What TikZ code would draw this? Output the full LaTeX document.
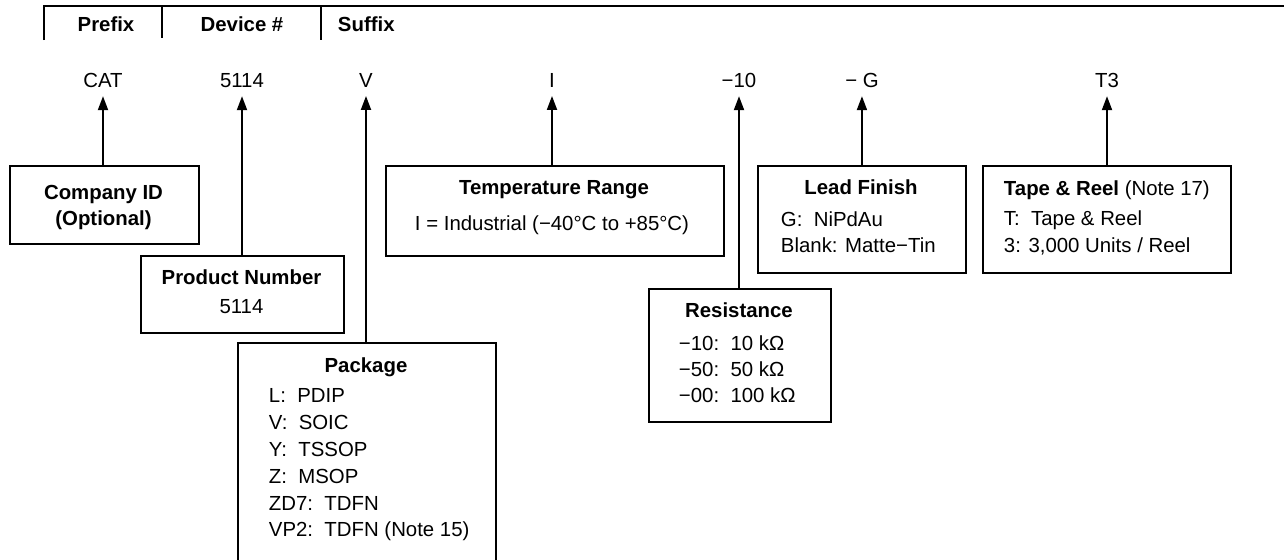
\documentclass[tikz,border=0pt]{standalone}
\usepackage{fontspec}
\setmainfont{Liberation Sans}
\usetikzlibrary{arrows.meta,positioning}

\begin{document}
\begin{tikzpicture}[x=0.02cm, y=-0.02cm, line width=1.1pt,
    every node/.style={font=\fontsize{11.6}{14}\selectfont}]
    % Styles
    \tikzstyle{headtext} = [font=\fontsize{11.6}{14}\selectfont\bfseries,
        inner sep=0pt, anchor=base]
    \tikzstyle{codetext} = [inner xsep=0pt, inner ysep=0.16cm, anchor=base]
    \tikzstyle{infobox} = [rectangle, draw, anchor=north west, inner sep=0pt]
    \tikzstyle{boxtitle} = [font=\fontsize{11.6}{14}\selectfont\bfseries,
        inner sep=0pt, anchor=base]
    \tikzstyle{boxitem} = [inner sep=0pt, anchor=base west]
    \tikzstyle{arrow} = [-{Triangle[length=0.28cm, width=0.2cm]}]

    \useasboundingbox (0,0) rectangle (1284,559);
    \clip (0,0) rectangle (1284,559);

    % === HEADER BAR ===
    \draw (44,40) -- (44,6) -- (1284,6);
    \draw (162,6) -- (162,38);
    \draw (321,6) -- (321,40);
    \node [headtext] (prefix) at (106,31) {Prefix};
    \node [headtext] (device) at (242,31) {Device \#};
    \node [headtext, anchor=base west] (suffix) at (337,31) {Suffix};

    % === PART NUMBER ===
    \node [codetext] (cat) at (103,87) {CAT};
    \node [codetext] (dev) at (242,87) {5114};
    \node [codetext] (pkgc) at (366,87) {V};
    \node [codetext] (tmpc) at (552,87) {I};
    \node [codetext] (resc) at (739,87) {−10};
    \node [codetext] (leadc) at (862,87) {− G};
    \node [codetext] (tapec) at (1107,87) {T3};

    % === BOXES ===
    % Company ID
    \node [infobox, minimum width=3.78cm, minimum height=1.56cm] (cid) at (9,165) {};
    \node [boxtitle] (cidt) at (103.5,199) {Company ID};
    \node [boxtitle] (cidt2) at (103.5,225) {(Optional)};

    % Product Number
    \node [infobox, minimum width=4.06cm, minimum height=1.54cm] (pnum) at (140,255) {};
    \node [boxtitle] (pnumt) at (241.5,284) {Product Number};
    \node [anchor=base, inner sep=0pt] (pnum1) at (241.5,313) {5114};

    % Package
    \node [infobox, minimum width=5.16cm, minimum height=5.2cm] (pkg) at (237,342) {};
    \node [boxtitle] (pkgt) at (366,372) {Package};
    \node [boxitem] (pkg1) at (268,402) {L:~~PDIP};
    \node [boxitem] (pkg2) at (268,429) {V:~~SOIC};
    \node [boxitem] (pkg3) at (268,456) {Y:~~TSSOP};
    \node [boxitem] (pkg4) at (268,483) {Z:~~MSOP};
    \node [boxitem] (pkg5) at (268,510) {ZD7:~~TDFN};
    \node [boxitem] (pkg6) at (268,536) {VP2:~~TDFN (Note 15)};

    % Temperature Range
    \node [infobox, minimum width=6.76cm, minimum height=1.8cm] (tmp) at (385,165) {};
    \node [boxtitle] (tmpt) at (554,194) {Temperature Range};
    \node [anchor=base, inner sep=0pt] (tmp1) at (552,230) {I = Industrial (−40°C to +85°C)};

    % Resistance
    \node [infobox, minimum width=3.64cm, minimum height=2.66cm] (res) at (648,288) {};
    \node [boxtitle] (rest) at (739,317) {Resistance};
    \node [boxitem] (res1) at (678,350) {−10:~~10 kΩ};
    \node [boxitem] (res2) at (678,376) {−50:~~50 kΩ};
    \node [boxitem] (res3) at (678,402) {−00:~~100 kΩ};

    % Lead Finish
    \node [infobox, minimum width=4.16cm, minimum height=2.14cm] (lead) at (757,165) {};
    \node [boxtitle] (leadt) at (861,194) {Lead Finish};
    \node [boxitem] (lead1) at (780,226) {G:~~NiPdAu};
    \node [boxitem] (lead2) at (780,252) {Blank: Matte−Tin};

    % Tape & Reel
    \node [infobox, minimum width=4.96cm, minimum height=2.14cm] (tape) at (982,165) {};
    \node [boxitem] (tapet) at (1003,195) {\textbf{Tape \& Reel} (Note 17)};
    \node [boxitem] (tape1) at (1003,225) {T:~~Tape \& Reel};
    \node [boxitem] (tape2) at (1003,252) {3: 3,000 Units / Reel};

    % === ARROWS ===
    \draw [arrow] (cat.south |- cid.north) -- (cat.south);
    \draw [arrow] (dev.south |- pnum.north) -- (dev.south);
    \draw [arrow] (pkgc.south |- pkg.north) -- (pkgc.south);
    \draw [arrow] (tmpc.south |- tmp.north) -- (tmpc.south);
    \draw [arrow] (resc.south |- res.north) -- (resc.south);
    \draw [arrow] (lead.north) -- (lead.north |- leadc.south);
    \draw [arrow] (tapec.south |- tape.north) -- (tapec.south);

\end{tikzpicture}
\end{document}
